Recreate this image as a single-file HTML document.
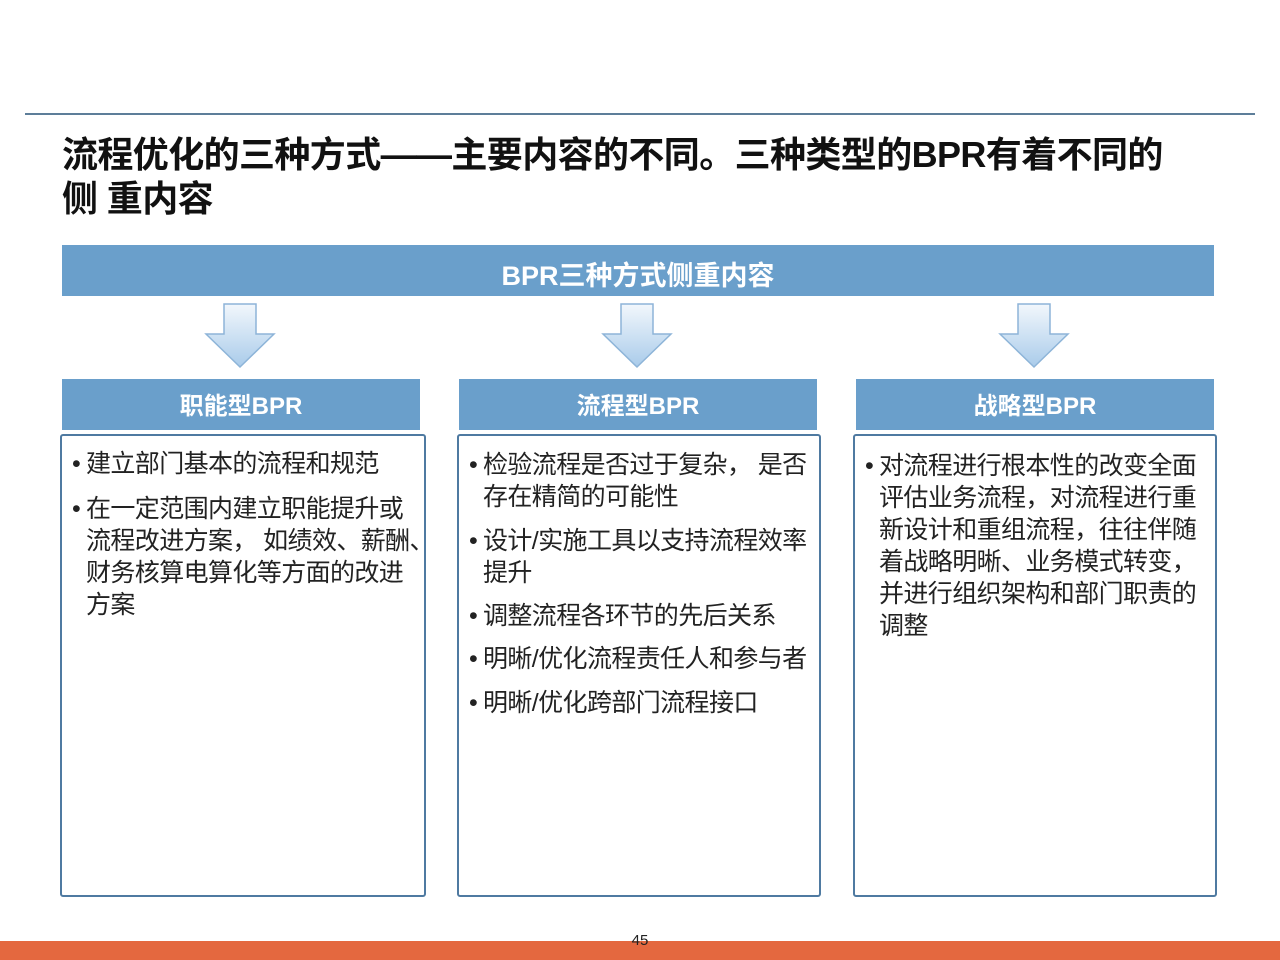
<!DOCTYPE html>
<html><head><meta charset="utf-8"><style>
body{margin:0;width:1280px;height:960px;position:relative;background:#fff;font-family:"Liberation Sans","Noto Sans CJK SC",sans-serif;overflow:hidden}
.a{position:absolute}
.hd{background:#6a9fcb;color:#fff;font-weight:bold;text-align:center;box-sizing:border-box}
.box{border:2px solid #4f7aa1;border-radius:3px;box-sizing:border-box;background:#fff}
.t{position:absolute;font-size:25px;line-height:32px;color:#222;letter-spacing:-0.6px;white-space:nowrap}
.t span{position:absolute;left:-14px}
</style></head><body>
<div class="a" style="left:25px;top:113px;width:1230px;height:2px;background:#5d7e99"></div>
<div class="a" style="left:62px;top:133px;font-size:36px;line-height:44px;font-weight:bold;color:#111;letter-spacing:-0.6px;white-space:nowrap">流程优化的三种方式——主要内容的不同。三种类型的BPR有着不同的<br>侧 重内容</div>
<div class="a hd" style="left:62px;top:245px;width:1152px;height:51px;padding-top:8px;line-height:46px;font-size:27px">BPR三种方式侧重内容</div>
<svg class="a" style="left:0;top:300px" width="1280" height="72">
<defs><linearGradient id="g" x1="0" y1="0" x2="0" y2="1"><stop offset="0" stop-color="#f2f7fc"/><stop offset="1" stop-color="#a9cbea"/></linearGradient></defs>
<g fill="url(#g)" stroke="#8db4d8" stroke-width="1.5">
<path d="M224 4h32v30h18l-34 33-34-33h18z"/>
<path d="M621 4h32v30h18l-34 33-34-33h18z"/>
<path d="M1018 4h32v30h18l-34 33-34-33h18z"/>
</g></svg>
<div class="a hd" style="left:62px;top:379px;width:358px;height:51px;padding-top:5px;line-height:46px;font-size:24px">职能型BPR</div>
<div class="a hd" style="left:459px;top:379px;width:358px;height:51px;padding-top:5px;line-height:46px;font-size:24px">流程型BPR</div>
<div class="a hd" style="left:856px;top:379px;width:358px;height:51px;padding-top:5px;line-height:46px;font-size:24px">战略型BPR</div>
<div class="a box" style="left:60px;top:434px;width:366px;height:463px"></div>
<div class="a box" style="left:457px;top:434px;width:364px;height:463px"></div>
<div class="a box" style="left:853px;top:434px;width:364px;height:463px"></div>
<div class="t" style="left:86px;top:448px"><span>•</span>建立部门基本的流程和规范</div>
<div class="t" style="left:86px;top:493px"><span>•</span>在一定范围内建立职能提升或<br>流程改进方案， 如绩效、薪酬、<br>财务核算电算化等方面的改进<br>方案</div>
<div class="t" style="left:483px;top:449px"><span>•</span>检验流程是否过于复杂，  是否<br>存在精简的可能性</div>
<div class="t" style="left:483px;top:525px"><span>•</span>设计/实施工具以支持流程效率<br>提升</div>
<div class="t" style="left:483px;top:600px"><span>•</span>调整流程各环节的先后关系</div>
<div class="t" style="left:483px;top:643px"><span>•</span>明晰/优化流程责任人和参与者</div>
<div class="t" style="left:483px;top:687px"><span>•</span>明晰/优化跨部门流程接口</div>
<div class="t" style="left:879px;top:450px"><span>•</span>对流程进行根本性的改变全面<br>评估业务流程，对流程进行重<br>新设计和重组流程，往往伴随<br>着战略明晰、业务模式转变，<br>并进行组织架构和部门职责的<br>调整</div>
<div class="a" style="left:0;top:941px;width:1280px;height:19px;background:#e4683f"></div>
<div class="a" style="left:620px;top:932px;width:40px;text-align:center;font-size:15px;color:#222">45</div>
</body></html>
